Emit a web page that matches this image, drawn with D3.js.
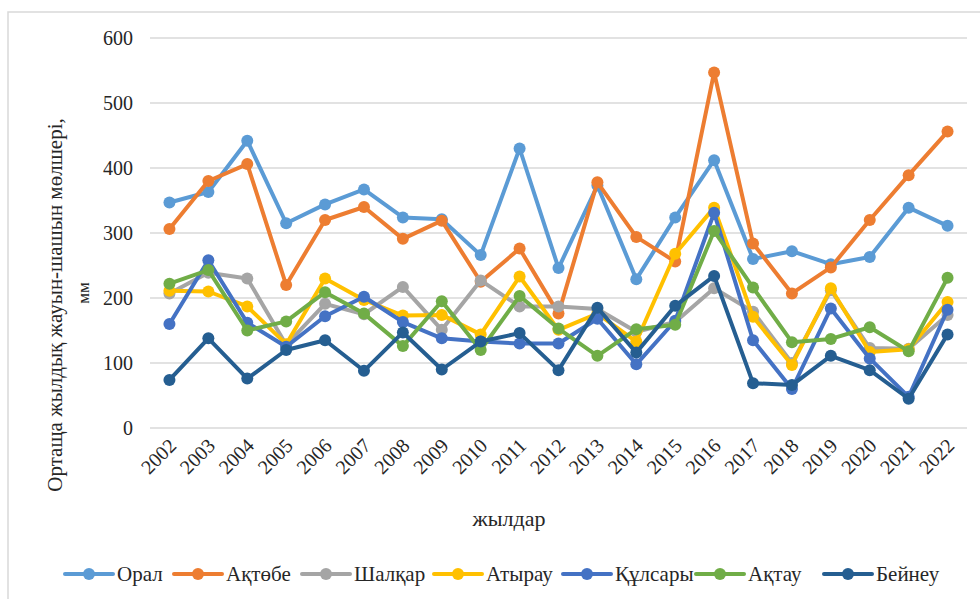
<!DOCTYPE html>
<html>
<head>
<meta charset="utf-8">
<script src="https://cdn.jsdelivr.net/npm/d3@7"></script>
<style>
  body { margin: 0; background: #fff; }
  svg { display: block; }
</style>
</head>
<body>
<div id="chart"></div>
<script>
const width = 980;
const height = 599;
const margin = { top: 38, right: 13, bottom: 171, left: 150 };

const years = ["2002", "2003", "2004", "2005", "2006", "2007", "2008", "2009", "2010", "2011", "2012",
  "2013", "2014", "2015", "2016", "2017", "2018", "2019", "2020", "2021", "2022"];
const yTicks = [0, 100, 200, 300, 400, 500, 600];

const stations = ["Орал", "Ақтөбе", "Шалқар", "Атырау", "Құлсары", "Ақтау", "Бейнеу"];
const colors = ["#5B9BD5", "#ED7D31", "#A5A5A5", "#FFC000", "#4472C4", "#70AD47", "#255E91"];

const oral = [347, 363, 442, 315, 344, 367, 324, 321, 266, 430, 246, 373, 229, 324, 412, 260, 272, 252, 263, 339, 311];
const aktobe = [306, 380, 406, 220, 320, 340, 291, 319, 225, 276, 176, 378, 294, 256, 547, 284, 207, 247, 320, 389, 456];
const shalkar = [207, 239, 230, 128, 191, 175, 217, 151, 227, 187, 187, 183, 148, 163, 215, 179, 100, 212, 123, 122, 174];
const atyrau = [211, 210, 187, 129, 230, 197, 173, 174, 144, 233, 151, 176, 133, 268, 339, 171, 97, 215, 117, 121, 194];
const kulsary = [160, 258, 162, 125, 172, 202, 163, 138, 133, 130, 130, 168, 98, 165, 331, 135, 60, 184, 107, 48, 182];
const aktau = [222, 243, 150, 164, 209, 176, 126, 195, 120, 203, 153, 111, 152, 159, 303, 216, 132, 137, 155, 118, 231];
const beineu = [74, 138, 76, 120, 135, 88, 147, 90, 133, 146, 89, 185, 116, 188, 234, 69, 66, 111, 89, 45, 144];

const seriesValues = [oral, aktobe, shalkar, atyrau, kulsary, aktau, beineu];
const series = stations.map((name, i) => ({
  name: name,
  color: colors[i],
  values: seriesValues[i].map((v, j) => ({ year: years[j], value: v }))
}));

const font = "Liberation Serif, Times New Roman, serif";

const svg = d3.select("#chart")
  .append("svg")
  .attr("width", width)
  .attr("height", height)
  .style("font-family", font);

// chart frame (only left and top edges show in the crop)
svg.append("path")
  .attr("d", `M8,${height} L8,12 L${width},12`)
  .attr("fill", "none")
  .attr("stroke", "#d9d9d9")
  .attr("stroke-width", 1.5);

const xScale = d3.scaleBand()
  .domain(years)
  .range([margin.left, width - margin.right])
  .padding(0);

const yScale = d3.scaleLinear()
  .domain([0, 600])
  .range([height - margin.bottom, margin.top]);

// gridlines
svg.append("g")
  .selectAll("line")
  .data(yTicks)
  .enter()
  .append("line")
  .attr("x1", margin.left)
  .attr("x2", width - margin.right)
  .attr("y1", d => yScale(d))
  .attr("y2", d => yScale(d))
  .attr("stroke", "#d9d9d9")
  .attr("stroke-width", 1.5);

// y axis labels
const yAxis = svg.append("g")
  .attr("transform", `translate(${margin.left - 17},0)`)
  .call(d3.axisLeft(yScale).tickValues(yTicks).tickSize(0).tickPadding(0));
yAxis.select(".domain").remove();
yAxis.selectAll("text")
  .style("font-family", font)
  .style("font-size", "20px")
  .attr("fill", "#262626");

// x axis labels
const xAxis = svg.append("g")
  .attr("transform", `translate(0,${height - margin.bottom})`)
  .call(d3.axisBottom(xScale).tickSize(0));
xAxis.select(".domain").remove();
xAxis.selectAll("text")
  .style("font-family", font)
  .style("font-size", "20px")
  .attr("fill", "#262626")
  .attr("text-anchor", "end")
  .attr("dy", 0)
  .attr("y", 0)
  .attr("transform", "translate(8,19) rotate(-45)");

// axis titles
svg.append("text")
  .attr("x", 509)
  .attr("y", 526)
  .attr("text-anchor", "middle")
  .style("font-size", "22px")
  .attr("fill", "#262626")
  .text("жылдар");

const yTitle = svg.append("text")
  .attr("transform", "translate(0,305) rotate(-90)")
  .attr("text-anchor", "middle")
  .attr("fill", "#262626");
yTitle.append("tspan")
  .attr("x", 0)
  .attr("y", 62)
  .style("font-size", "21px")
  .text("Ортаща жылдық жауын-шашын мөлшері,");
yTitle.append("tspan")
  .attr("x", 12)
  .attr("y", 89)
  .style("font-size", "17px")
  .text("мм");

// lines and markers
const line = d3.line()
  .x(d => xScale(d.year) + xScale.bandwidth() / 2)
  .y(d => yScale(d.value));

const groups = svg.selectAll("g.series")
  .data(series)
  .enter()
  .append("g")
  .attr("class", "series");

groups.append("path")
  .attr("d", d => line(d.values))
  .attr("fill", "none")
  .attr("stroke", d => d.color)
  .attr("stroke-width", 4)
  .attr("stroke-linejoin", "round");

groups.selectAll("circle")
  .data(d => d.values.map(v => ({ ...v, color: d.color })))
  .enter()
  .append("circle")
  .attr("cx", d => xScale(d.year) + xScale.bandwidth() / 2)
  .attr("cy", d => yScale(d.value))
  .attr("r", 6)
  .attr("fill", d => d.color);

// legend
const legendX = [65, 174, 302, 434, 563, 696, 824];
const legend = svg.append("g")
  .attr("transform", "translate(0,574)");

series.forEach((s, i) => {
  const row = legend.append("g")
    .attr("transform", `translate(${legendX[i]},0)`);

  row.append("line")
    .attr("x1", 0)
    .attr("x2", 48)
    .attr("stroke", s.color)
    .attr("stroke-width", 4)
    .attr("stroke-linecap", "round");

  row.append("circle")
    .attr("cx", 24)
    .attr("r", 6)
    .attr("fill", s.color);

  row.append("text")
    .attr("x", 52)
    .attr("y", 7)
    .text(s.name)
    .style("font-size", "21px")
    .attr("fill", "#262626");
});
</script>
</body>
</html>
